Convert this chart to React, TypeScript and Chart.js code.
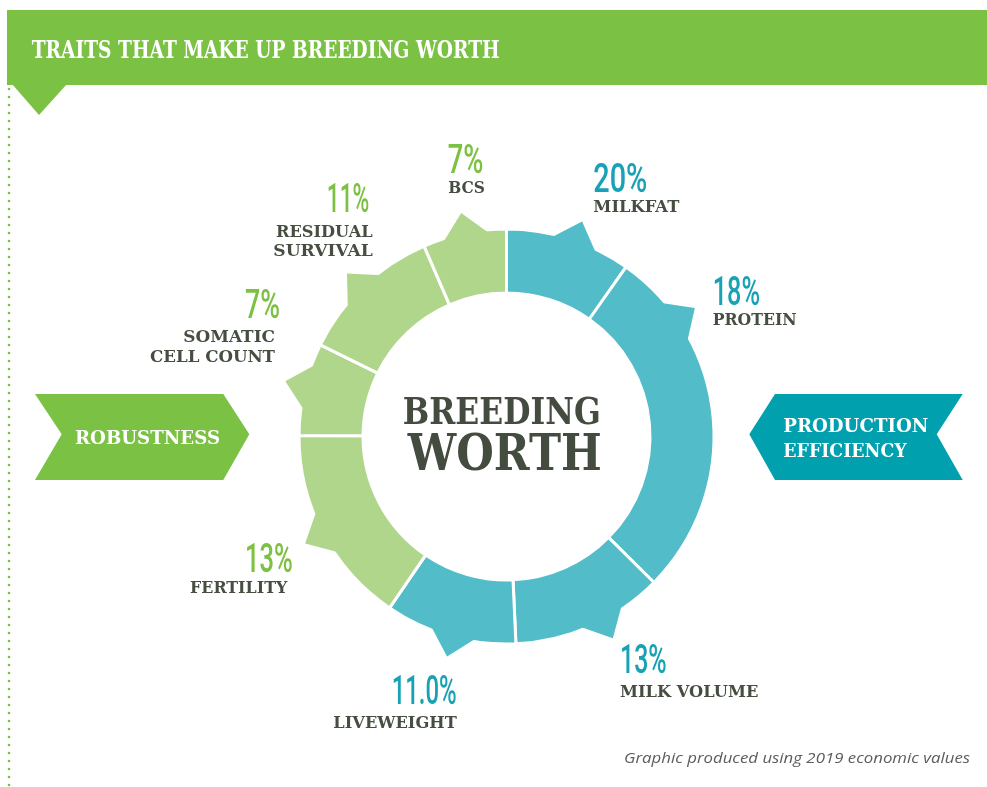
import React, { useEffect, useRef } from "react";
import { Chart, registerables } from "chart.js";

Chart.register(...registerables);

// ---------- data ----------
const traitNames: string[][] = [
  ["MILKFAT"],
  ["PROTEIN"],
  ["MILK VOLUME"],
  ["LIVEWEIGHT"],
  ["FERTILITY"],
  ["SOMATIC", "CELL COUNT"],
  ["RESIDUAL", "SURVIVAL"],
  ["BCS"],
];
const percentLabels = ["20%", "18%", "13%", "11.0%", "13%", "7%", "11%", "7%"];
// arc sizes as drawn in the graphic (degrees, clockwise from 12 o'clock)
const segmentSpans = [35.2, 99.5, 42.7, 36.9, 56.0, 25.9, 40.4, 23.4];
const traitGroups = ["production", "production", "production", "production", "robustness", "robustness", "robustness", "robustness"];
const groupLabels = { robustness: ["ROBUSTNESS"], production: ["PRODUCTION", "EFFICIENCY"] };
const titleText = "TRAITS THAT MAKE UP BREEDING WORTH";
const centerLines = ["BREEDING", "WORTH"];
const footnote = "Graphic produced using 2019 economic values";

// ---------- style ----------
const HEADER_GREEN = "#7bc143";
const ARROW_TEAL = "#00a0ae";
const SEG_TEAL = "#52bcc9";
const SEG_GREEN = "#b0d68c";
const PCT_TEAL = "#18a2b4";
const PCT_GREEN = "#7cc142";
const DARK = "#454e40";
const SLAB = "'DejaVu Serif', serif";
const PCT_FONT = "'Roboto', 'DejaVu Sans', sans-serif";

const OUTER_R = 207.5;
const INNER_R = 143.5;
const SPIKE_HALF_DEG = 6.8;
const SPIKE_HEIGHT = 22;
const spikeFractions = [0.55, 0.206, 0.41, 0.48, 0.495, 0.53, 0.48, 0.51];

// label layout: [x, baseline] for percent and name lines, alignment and widths
type LabelLayout = {
  align: "left" | "right";
  pct: [number, number, number];
  names: [number, number, number][];
};
const labelLayout: LabelLayout[] = [
  { align: "left", pct: [593.3, 191.7, 54], names: [[593.3, 211.7, 86]] },
  { align: "left", pct: [712.7, 305, 47.3], names: [[712.7, 325, 84]] },
  { align: "left", pct: [620, 672.7, 46.7], names: [[620, 697.3, 138.3]] },
  { align: "right", pct: [456.7, 704, 65], names: [[456.7, 728.3, 123.4]] },
  { align: "right", pct: [292.7, 571.7, 47.7], names: [[287.3, 592.7, 97.3]] },
  { align: "right", pct: [280, 318.3, 35], names: [[275, 341.7, 91.7], [275, 361.8, 125]] },
  { align: "right", pct: [369.3, 211.7, 42.6], names: [[372.7, 236.7, 96.7], [372.7, 256, 99.4]] },
  { align: "left", pct: [447.7, 173.3, 35.6], names: [[448.3, 192.7, 36.7]] },
];

function fitText(
  ctx: CanvasRenderingContext2D,
  text: string,
  x: number,
  y: number,
  width: number,
  align: "left" | "right" | "center"
) {
  const w = ctx.measureText(text).width || 1;
  const sx = width / w;
  const left = align === "left" ? x : align === "right" ? x - width : x - width / 2;
  ctx.save();
  ctx.translate(left, y);
  ctx.scale(sx, 1);
  ctx.textAlign = "left";
  ctx.textBaseline = "alphabetic";
  ctx.fillText(text, 0, 0);
  ctx.restore();
}

const decorPlugin = {
  id: "decor",
  beforeDraw(chart: any) {
    const ctx: CanvasRenderingContext2D = chart.ctx;
    ctx.save();
    ctx.fillStyle = "#ffffff";
    ctx.fillRect(0, 0, chart.width, chart.height);

    // header band
    ctx.fillStyle = HEADER_GREEN;
    ctx.fillRect(7, 10, chart.width - 7, 75);
    ctx.beginPath();
    ctx.moveTo(12, 84);
    ctx.lineTo(67, 84);
    ctx.lineTo(39, 115);
    ctx.closePath();
    ctx.fill();
    ctx.fillStyle = "#ffffff";
    ctx.font = `bold 25px ${SLAB}`;
    fitText(ctx, titleText, 31.7, 58.3, 468, "left");

    // dotted guide line
    ctx.fillStyle = HEADER_GREEN;
    for (let y = 89; y < chart.height; y += 8) {
      ctx.beginPath();
      ctx.arc(9, y, 1.3, 0, Math.PI * 2);
      ctx.fill();
    }

    // robustness arrow
    ctx.fillStyle = HEADER_GREEN;
    ctx.beginPath();
    ctx.moveTo(35, 394);
    ctx.lineTo(223.3, 394);
    ctx.lineTo(249.3, 434.3);
    ctx.lineTo(223.3, 480);
    ctx.lineTo(35, 480);
    ctx.lineTo(61.7, 434.3);
    ctx.closePath();
    ctx.fill();
    ctx.fillStyle = "#ffffff";
    ctx.font = `bold 19px ${SLAB}`;
    fitText(ctx, groupLabels.robustness[0], 75, 444, 145, "left");

    // production efficiency arrow
    ctx.fillStyle = ARROW_TEAL;
    ctx.beginPath();
    ctx.moveTo(775, 394);
    ctx.lineTo(962.7, 394);
    ctx.lineTo(936.7, 434.3);
    ctx.lineTo(962.7, 480);
    ctx.lineTo(775, 480);
    ctx.lineTo(749.3, 434.3);
    ctx.closePath();
    ctx.fill();
    ctx.fillStyle = "#ffffff";
    ctx.font = `bold 19px ${SLAB}`;
    fitText(ctx, groupLabels.production[0], 783.3, 431.7, 145, "left");
    fitText(ctx, groupLabels.production[1], 783.3, 457.3, 123.4, "left");

    // footnote
    ctx.fillStyle = "#5c5c5c";
    ctx.font = `italic 15px 'Open Sans', sans-serif`;
    fitText(ctx, footnote, 970, 763, 346, "right");
    ctx.restore();
  },
  afterDatasetsDraw(chart: any) {
    const ctx: CanvasRenderingContext2D = chart.ctx;
    const meta = chart.getDatasetMeta(0);
    ctx.save();
    // spikes on the outer edge of each segment
    meta.data.forEach((arc: any, i: number) => {
      const p = arc.getProps(["x", "y", "startAngle", "endAngle", "outerRadius"], true);
      const theta = p.startAngle + spikeFractions[i] * (p.endAngle - p.startAngle);
      const hw = (SPIKE_HALF_DEG * Math.PI) / 180;
      const visible = p.outerRadius - 1.5;
      const rb = visible - 2.5;
      const rt = visible + SPIKE_HEIGHT;
      ctx.fillStyle = traitGroups[i] === "production" ? SEG_TEAL : SEG_GREEN;
      ctx.beginPath();
      ctx.moveTo(p.x + rb * Math.cos(theta - hw), p.y + rb * Math.sin(theta - hw));
      ctx.lineTo(p.x + rt * Math.cos(theta), p.y + rt * Math.sin(theta));
      ctx.lineTo(p.x + rb * Math.cos(theta + hw), p.y + rb * Math.sin(theta + hw));
      ctx.closePath();
      ctx.fill();
    });

    // centre text
    const c = meta.data[0];
    ctx.fillStyle = "#434c3e";
    ctx.font = `bold 37px ${SLAB}`;
    fitText(ctx, centerLines[0], 501.7, 424, 198, "center");
    ctx.font = `bold 51px ${SLAB}`;
    fitText(ctx, centerLines[1], 504.8, 470, 194, "center");

    // trait labels
    labelLayout.forEach((lay, i) => {
      ctx.fillStyle = traitGroups[i] === "production" ? PCT_TEAL : PCT_GREEN;
      ctx.font = `500 40px ${PCT_FONT}`;
      fitText(ctx, percentLabels[i], lay.pct[0], lay.pct[1], lay.pct[2], lay.align);
      ctx.fillStyle = DARK;
      ctx.font = `bold 17px ${SLAB}`;
      traitNames[i].forEach((line, j) => {
        const n = lay.names[j];
        fitText(ctx, line, n[0], n[1], n[2], lay.align);
      });
    });
    ctx.restore();
  },
};

export default function App() {
  const canvasRef = useRef<HTMLCanvasElement | null>(null);

  useEffect(() => {
    const canvas = canvasRef.current;
    if (!canvas) return;
    const chart = new Chart(canvas, {
      type: "doughnut",
      data: {
        labels: traitNames.map((l) => l.join(" ")),
        datasets: [
          {
            data: segmentSpans,
            backgroundColor: traitGroups.map((g) => (g === "production" ? SEG_TEAL : SEG_GREEN)),
            borderColor: "#ffffff",
            borderWidth: 3,
          },
        ],
      },
      options: {
        responsive: false,
        animation: false,
        events: [],
        radius: OUTER_R,
        cutout: `${(INNER_R / OUTER_R) * 100}%`,
        layout: { padding: { left: 26, top: 86, right: 0, bottom: 0 } },
        plugins: {
          legend: { display: false },
          tooltip: { enabled: false },
          title: { display: false },
        },
      } as any,
      plugins: [decorPlugin],
    });
    return () => chart.destroy();
  }, []);

  return (
    <div style={{ position: "absolute", left: 0, top: 0, width: 987, height: 787, background: "#fff" }}>
      <canvas ref={canvasRef} width={987} height={787} style={{ display: "block", width: 987, height: 787 }} />
    </div>
  );
}
